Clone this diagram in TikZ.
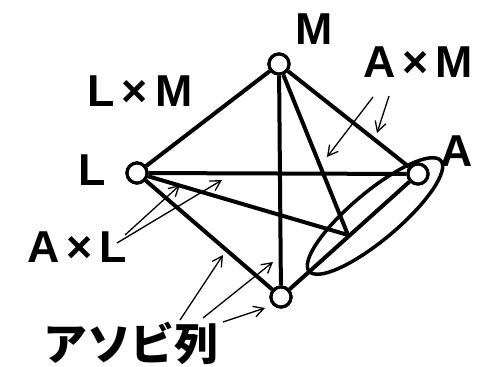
\documentclass[tikz,border=0pt]{standalone}
\usepackage{fontspec}
\setmainfont{Liberation Sans}
\newfontfamily\cjk{Noto Sans CJK JP}
\usetikzlibrary{arrows.meta}
\begin{document}
\begin{tikzpicture}[x=1pt,y=-1pt,
  vtx/.style={circle,draw,line width=3.2pt,fill=white,minimum size=20pt,inner sep=0pt},
  edge/.style={line width=4pt},
  ptr/.style={line width=1.3pt,-{Straight Barb[length=10pt,width=11pt,line width=1.3pt]}},
  lbl/.style={font=\fontsize{44.7}{48}\selectfont\bfseries,inner sep=0pt}]
\useasboundingbox (0,0) rectangle (480,367);
% vertices
\node[vtx] (M) at (279,64) {};
\node[vtx] (L) at (137,173) {};
\node[vtx] (A) at (418,174) {};
\node[vtx] (B) at (281,297) {};
\coordinate (P) at (348,235);
% edges
\begin{scope}[on background layer/.try]
\end{scope}
\draw[edge] (L) -- (M);
\draw[edge] (L) -- (A);
\draw[edge] (L) -- (B);
\draw[edge] (M) -- (A);
\draw[edge] (M) -- (B);
\draw[edge] (A) -- (B);
\draw[edge] (L) -- (P);
\draw[edge] (M) -- (P);
% ellipse
\draw[line width=3.5pt, rotate around={40:(375,216)}] (375,216) ellipse [x radius=86, y radius=24];
% redraw vertices on top
\node[vtx] at (M) {};
\node[vtx] at (L) {};
\node[vtx] at (A) {};
\node[vtx] at (B) {};
% labels
\node[lbl] (tM) at (314,29) {M};
\node[lbl] (tAM) at (418,62) {A\hspace{7pt}×\hspace{7pt}M};
\node[lbl] (tA) at (457,151) {A};
\node[lbl] (tL) at (92,170) {L};
\node[lbl] (tLM) at (140,91) {L\hspace{7pt}×\hspace{7pt}M};
\node[lbl] (tAL) at (77,247) {A\hspace{7pt}×\hspace{7pt}L};
\node[lbl,font=\fontsize{44}{48}\selectfont\cjk\bfseries] (tAS) at (131,343) {アソビ列};
% pointer arrows
\coordinate (am1s) at (373,97);  \coordinate (am1e) at (327,157);
\coordinate (am2s) at (389,96);  \coordinate (am2e) at (377,133);
\coordinate (al1s) at (125,235); \coordinate (al1e) at (180,185);
\coordinate (al2s) at (117,243); \coordinate (al2e) at (222,180);
\coordinate (as1s) at (180,320); \coordinate (as1e) at (223,255);
\coordinate (as2s) at (203,318); \coordinate (as2e) at (273,262);
\coordinate (as3s) at (223,322); \coordinate (as3e) at (265,308);
\draw[ptr] (am1s) -- (am1e);
\draw[ptr] (am2s) -- (am2e);
\draw[ptr] (al1s) -- (al1e);
\draw[ptr] (al2s) -- (al2e);
\draw[ptr] (as1s) -- (as1e);
\draw[ptr] (as2s) -- (as2e);
\draw[ptr] (as3s) -- (as3e);
\end{tikzpicture}
\end{document}
